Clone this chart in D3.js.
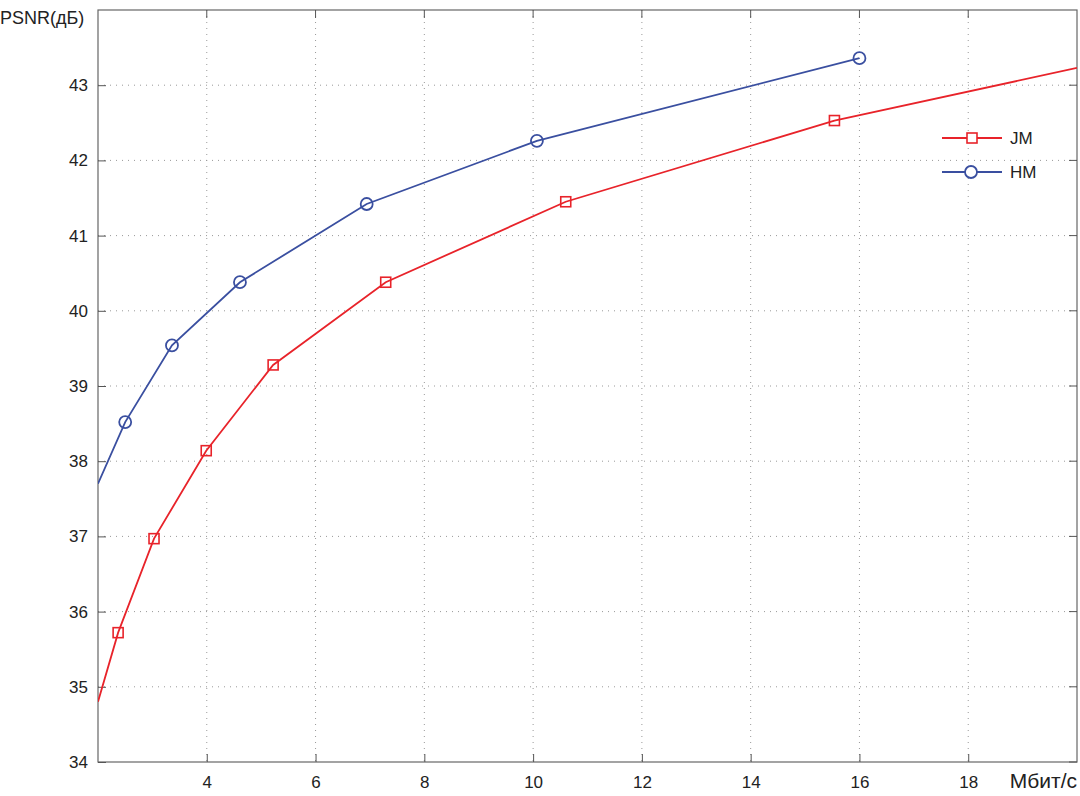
<!DOCTYPE html><html><head><meta charset="utf-8">
<script src="https://cdn.jsdelivr.net/npm/d3@7"></script>
<style>body{margin:0;background:#fff}svg{font-family:"Liberation Sans",Arial,sans-serif}</style></head><body>
<script>
const xTicks=[4,6,8,10,12,14,16,18];
const yTicks=[34,35,36,37,38,39,40,41,42,43];
const jmX=[2,2.37,3.03,3.99,5.22,7.29,10.6,15.54,20];
const jmY=[34.8,35.72,36.97,38.14,39.28,40.38,41.45,42.53,43.23];
const jmMarked=[0,1,1,1,1,1,1,1,0];
const hmX=[2,2.5,3.36,4.61,6.94,10.07,16.0];
const hmY=[37.7,38.52,39.54,40.38,41.42,42.26,43.36];
const hmMarked=[0,1,1,1,1,1,1];
const W=1080,H=796,L=98,R=1077,T=10,B=762;
const svg=d3.select("body").append("svg").attr("width",W).attr("height",H);
const x=d3.scaleLinear().domain([2,20]).range([L,R]);
const y=d3.scaleLinear().domain([34,44]).range([B,T]);
const g=svg.append("g");
xTicks.forEach(t=>g.append("line").attr("x1",x(t)).attr("x2",x(t)).attr("y1",T).attr("y2",B).attr("stroke","#999").attr("stroke-dasharray","1,5"));
yTicks.slice(1).forEach(t=>g.append("line").attr("x1",L).attr("x2",R).attr("y1",y(t)).attr("y2",y(t)).attr("stroke","#999").attr("stroke-dasharray","1,5"));
svg.append("rect").attr("x",L).attr("y",T).attr("width",R-L).attr("height",B-T).attr("fill","none").attr("stroke","#666").attr("stroke-width",1.2);
const xa=svg.append("g").attr("transform",`translate(0,${B})`).call(d3.axisBottom(x).tickValues(xTicks).tickSize(-8).tickPadding(14));
const ya=svg.append("g").attr("transform",`translate(${L},0)`).call(d3.axisLeft(y).tickValues(yTicks).tickSize(-8).tickPadding(10));
[xa,ya].forEach(a=>{a.select(".domain").remove();a.selectAll("line").attr("stroke","#555");a.selectAll("text").attr("font-size",17).attr("fill","#222").attr("font-family","Liberation Sans, Arial, sans-serif");});
// right ticks
yTicks.forEach(t=>svg.append("line").attr("x1",R).attr("x2",R-8).attr("y1",y(t)).attr("y2",y(t)).attr("stroke","#555"));
xTicks.forEach(t=>svg.append("line").attr("x1",x(t)).attr("x2",x(t)).attr("y1",T).attr("y2",T+8).attr("stroke","#555"));
svg.append("text").attr("x",0).attr("y",24).attr("font-size",18).attr("fill","#222").text("PSNR(дБ)");
svg.append("text").attr("x",1077).attr("y",788).attr("text-anchor","end").attr("font-size",21).attr("fill","#222").text("Мбит/с");
const clip=svg.append("clipPath").attr("id","c").append("rect").attr("x",L).attr("y",T).attr("width",R-L).attr("height",B-T);
function series(X,Y,M,col,shape){
 const pts=X.map((v,i)=>[v,Y[i],M[i]]);
 svg.append("path").attr("clip-path","url(#c)").datum(pts).attr("d",d3.line().x(d=>x(d[0])).y(d=>y(d[1]))).attr("fill","none").attr("stroke",col).attr("stroke-width",1.8);
 pts.filter(d=>d[2]).forEach(d=>{
  if(shape==="sq")svg.append("rect").attr("x",x(d[0])-5).attr("y",y(d[1])-5).attr("width",10).attr("height",10).attr("fill","none").attr("stroke",col).attr("stroke-width",1.6);
  else svg.append("circle").attr("cx",x(d[0])).attr("cy",y(d[1])).attr("r",6).attr("fill","none").attr("stroke",col).attr("stroke-width",1.8);
 });
}
series(jmX,jmY,jmMarked,"#e8232a","sq");
series(hmX,hmY,hmMarked,"#3a4fa0","ci");
const leg=[["JM","#e8232a","sq",138],["HM","#3a4fa0","ci",172]];
leg.forEach(([n,c,s,yy])=>{
 svg.append("line").attr("x1",942).attr("x2",1002).attr("y1",yy).attr("y2",yy).attr("stroke",c).attr("stroke-width",1.8);
 if(s==="sq")svg.append("rect").attr("x",967).attr("y",yy-5).attr("width",10).attr("height",10).attr("fill","#fff").attr("stroke",c).attr("stroke-width",1.6);
 else svg.append("circle").attr("cx",971).attr("cy",yy).attr("r",6).attr("fill","#fff").attr("stroke",c).attr("stroke-width",1.8);
 svg.append("text").attr("x",1010).attr("y",yy+6).attr("font-size",17).attr("fill","#222").text(n);
});
</script></body></html>
